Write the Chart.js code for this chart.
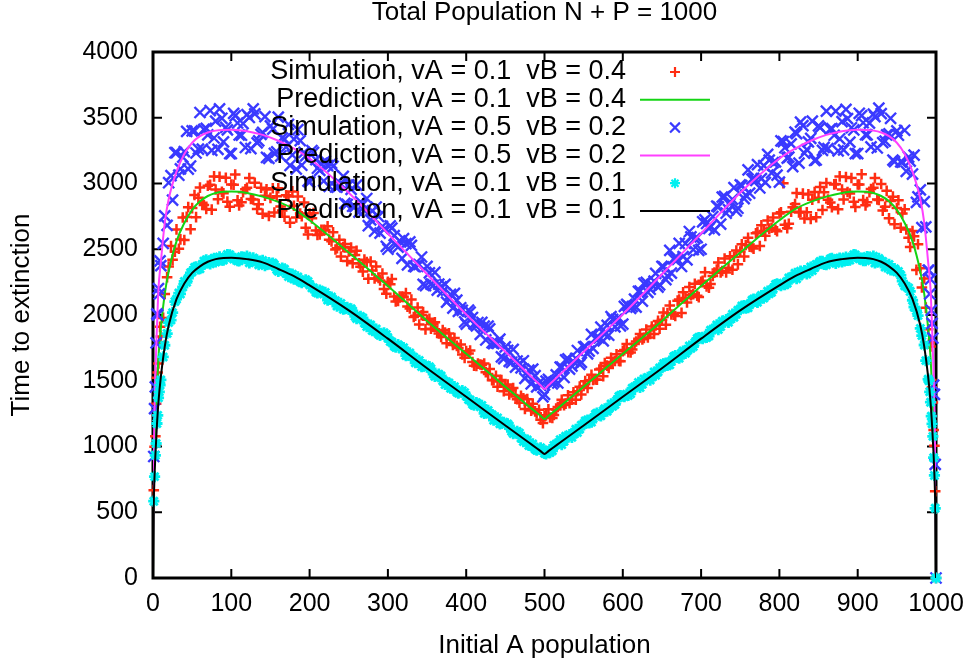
<!DOCTYPE html>
<html>
<head>
<meta charset="utf-8">
<title>Total Population N + P = 1000</title>
<script src="https://cdn.jsdelivr.net/npm/chart.js@4.4.0/dist/chart.umd.min.js"></script>
<style>
  html, body { margin: 0; padding: 0; background: #fff; }
  #chart { display: block; }
</style>
</head>
<body>
<canvas id="chart" width="970" height="667"></canvas>
<script>
// initial A population of each simulated run
const simX = [
    1, 2, 3, 4, 5, 6, 7, 8, 9, 10,
    15, 20, 25, 30, 35, 40, 45, 50, 55, 60, 65, 70, 75, 80, 85, 90, 95, 100, 105, 110,
    115, 120, 125, 130, 135, 140, 145, 150, 155, 160, 165, 170, 175, 180, 185, 190, 195, 200, 205, 210,
    215, 220, 225, 230, 235, 240, 245, 250, 255, 260, 265, 270, 275, 280, 285, 290, 295, 300, 305, 310,
    315, 320, 325, 330, 335, 340, 345, 350, 355, 360, 365, 370, 375, 380, 385, 390, 395, 400, 405, 410,
    415, 420, 425, 430, 435, 440, 445, 450, 455, 460, 465, 470, 475, 480, 485, 490, 495, 500,
    505, 510, 515, 520, 525, 530, 535, 540, 545, 550, 555, 560, 565, 570, 575, 580, 585, 590, 595, 600,
    605, 610, 615, 620, 625, 630, 635, 640, 645, 650, 655, 660, 665, 670, 675, 680, 685, 690, 695, 700,
    705, 710, 715, 720, 725, 730, 735, 740, 745, 750, 755, 760, 765, 770, 775, 780, 785, 790, 795, 800,
    805, 810, 815, 820, 825, 830, 835, 840, 845, 850, 855, 860, 865, 870, 875, 880, 885, 890, 895, 900,
    905, 910, 915, 920, 925, 930, 935, 940, 945, 950, 955, 960, 965, 970, 975, 980, 985,
    990, 991, 992, 993, 994, 995, 996, 997, 998, 999, 1000
];
// runs lying between the ones above
const simMidX = [
    13, 18, 23, 28, 33, 38, 43, 48, 53, 58, 63, 68, 73, 78, 83, 88, 93, 98, 103, 108,
    113, 118, 123, 128, 133, 138, 143, 148, 153, 158, 163, 168, 173, 178, 183, 188, 193, 198, 203, 208,
    213, 218, 223, 228, 233, 238, 243, 248, 253, 258, 263, 268, 273, 278, 283, 288, 293, 298, 303, 308,
    313, 318, 323, 328, 333, 338, 343, 348, 353, 358, 363, 368, 373, 378, 383, 388, 393, 398, 403, 408,
    413, 418, 423, 428, 433, 438, 443, 448, 453, 458, 463, 468, 473, 478, 483, 488, 493, 498,
    502, 507, 512, 517, 522, 527, 532, 537, 542, 547, 552, 557, 562, 567, 572, 577, 582, 587, 592, 597,
    602, 607, 612, 617, 622, 627, 632, 637, 642, 647, 652, 657, 662, 667, 672, 677, 682, 687, 692, 697,
    702, 707, 712, 717, 722, 727, 732, 737, 742, 747, 752, 757, 762, 767, 772, 777, 782, 787, 792, 797,
    802, 807, 812, 817, 822, 827, 832, 837, 842, 847, 852, 857, 862, 867, 872, 877, 882, 887, 892, 897,
    902, 907, 912, 917, 922, 927, 932, 937, 942, 947, 952, 957, 962, 967, 972, 977, 982, 987
];

// simulation, vA = 0.1 vB = 0.4
const simRed = [
    668, 998, 1078, 1326, 1522, 1562, 1632, 1792, 1910, 1836,
    2160, 2369, 2421, 2651, 2575, 2570, 2820, 2813, 2744, 2969,
    2836, 2983, 2801, 2954, 3051, 2925, 2862, 2992, 3069, 2833,
    2933, 2967, 2883, 3006, 2843, 2770, 2955, 2891, 2779, 2964,
    2794, 2910, 2701, 2831, 2902, 2751, 2664, 2772, 2776, 2608,
    2647, 2646, 2573, 2629, 2508, 2444, 2540, 2483, 2394, 2488,
    2367, 2421, 2276, 2338, 2369, 2263, 2198, 2252, 2274, 2103,
    2141, 2138, 2064, 2117, 1995, 1928, 2022, 1963, 1895, 1945,
    1860, 1885, 1785, 1815, 1825, 1750, 1700, 1725, 1730, 1615,
    1630, 1620, 1565, 1590, 1505, 1455, 1505, 1460, 1395, 1445,
    1360, 1385, 1285, 1315, 1326, 1252, 1203, 1229,
    1283, 1217, 1281, 1320, 1315, 1390, 1355, 1355, 1455, 1460,
    1445, 1545, 1510, 1585, 1535, 1615, 1675, 1650, 1650, 1725,
    1780, 1715, 1780, 1820, 1815, 1890, 1855, 1855, 1955, 1963,
    1926, 2072, 2003, 2109, 2016, 2130, 2213, 2159, 2146, 2252,
    2326, 2207, 2297, 2346, 2324, 2429, 2359, 2344, 2490, 2483,
    2444, 2588, 2516, 2621, 2525, 2638, 2719, 2664, 2648, 2772,
    3002, 2660, 2785, 2844, 2779, 2923, 2781, 2730, 2935, 2891,
    2799, 3004, 2856, 2993, 2805, 2954, 3050, 2924, 2861, 2992,
    3070, 2834, 2934, 2967, 2879, 2996, 2823, 2735, 2900, 2813,
    2664, 2804, 2588, 2638, 2343, 2356, 2277,
    1892, 1782, 1792, 1760, 1506, 1450, 1334, 1126, 1006, 660, 0
];
const simMidRed = [
    1978, 2288, 2525, 2481, 2504, 2741, 2746, 2652, 2912, 2892,
    2853, 2807, 2991, 3054, 2880, 2936, 3043, 2823, 2991, 2873,
    2857, 2956, 3041, 2879, 2807, 2968, 2907, 2753, 2964, 2903,
    2826, 2747, 2902, 2940, 2741, 2772, 2855, 2612, 2735, 2643,
    2612, 2647, 2675, 2560, 2498, 2572, 2517, 2410, 2513, 2457,
    2394, 2330, 2403, 2407, 2277, 2281, 2316, 2162, 2234, 2140,
    2106, 2140, 2166, 2049, 1985, 2057, 2000, 1891, 1972, 1929,
    1881, 1833, 1867, 1860, 1772, 1765, 1776, 1674, 1708, 1642,
    1613, 1624, 1631, 1551, 1504, 1538, 1495, 1420, 1472, 1429,
    1381, 1333, 1367, 1360, 1273, 1267, 1279, 1178,
    1237, 1220, 1240, 1300, 1356, 1326, 1329, 1413, 1420, 1395,
    1497, 1504, 1506, 1508, 1592, 1635, 1597, 1640, 1701, 1649,
    1733, 1717, 1738, 1799, 1856, 1826, 1829, 1913, 1920, 1895,
    2019, 2015, 2004, 1992, 2117, 2173, 2095, 2151, 2238, 2136,
    2260, 2218, 2236, 2322, 2400, 2335, 2323, 2447, 2442, 2385,
    2538, 2532, 2519, 2505, 2628, 2682, 2602, 2657, 2741, 2637,
    2781, 2686, 2694, 2819, 2927, 2785, 2734, 2917, 2877, 2743,
    2974, 2933, 2877, 2820, 2996, 3054, 2878, 2935, 3042, 2822,
    2992, 2874, 2858, 2958, 3041, 2874, 2794, 2944, 2866, 2691,
    2873, 2772, 2650, 2517, 2598, 2538, 2210, 2056
];

// simulation, vA = 0.5 vB = 0.2
const simBlue = [
    924, 1288, 1454, 1788, 2008, 2000, 2200, 2160, 2412, 2376,
    2754, 3006, 2874, 3234, 3111, 3243, 3110, 3400, 3232, 3540,
    3412, 3370, 3252, 3474, 3567, 3317, 3408, 3228, 3515, 3369,
    3456, 3524, 3266, 3529, 3324, 3388, 3198, 3438, 3229, 3505,
    3347, 3278, 3137, 3337, 3409, 3139, 3210, 3010, 3237, 3116,
    3150, 3172, 2978, 3131, 2973, 2995, 2849, 2990, 2827, 2988,
    2861, 2794, 2679, 2792, 2821, 2622, 2651, 2500, 2661, 2534,
    2563, 2580, 2381, 2530, 2367, 2384, 2233, 2370, 2235, 2324,
    2234, 2180, 2098, 2157, 2165, 2028, 2036, 1930, 2022, 1933,
    1943, 1944, 1810, 1894, 1783, 1785, 1681, 1758, 1647, 1738,
    1650, 1598, 1518, 1580, 1589, 1454, 1465, 1397,
    1510, 1477, 1544, 1603, 1525, 1666, 1612, 1671, 1624, 1758,
    1704, 1852, 1821, 1826, 1803, 1921, 1988, 1910, 1977, 1930,
    2081, 2051, 2120, 2180, 2105, 2248, 2196, 2257, 2212, 2370,
    2269, 2492, 2427, 2422, 2369, 2544, 2635, 2498, 2589, 2500,
    2723, 2658, 2749, 2828, 2691, 2902, 2801, 2880, 2791, 2990,
    2885, 3103, 3033, 3023, 2966, 3136, 3222, 3080, 3165, 3010,
    3318, 3193, 3301, 3391, 3155, 3440, 3257, 3343, 3175, 3438,
    3252, 3550, 3414, 3367, 3248, 3470, 3564, 3315, 3407, 3228,
    3516, 3371, 3459, 3528, 3270, 3532, 3322, 3378, 3178, 3400,
    3164, 3405, 3201, 3072, 2856, 2952, 2862,
    2340, 2340, 2160, 2272, 2036, 1936, 1824, 1466, 1396, 864, 0
];
const simMidBlue = [
    2544, 2682, 3060, 3234, 3063, 3201, 3397, 3133, 3400, 3262,
    3262, 3419, 3555, 3346, 3260, 3496, 3426, 3228, 3533, 3460,
    3367, 3274, 3502, 3568, 3309, 3373, 3508, 3191, 3413, 3240,
    3209, 3338, 3449, 3217, 3110, 3326, 3236, 3018, 3251, 3181,
    3100, 3019, 3136, 3154, 2974, 2992, 3054, 2841, 2955, 2825,
    2783, 2840, 2886, 2723, 2637, 2749, 2674, 2522, 2678, 2603,
    2517, 2431, 2543, 2556, 2371, 2384, 2441, 2223, 2320, 2226,
    2189, 2214, 2233, 2118, 2053, 2113, 2055, 1947, 2037, 1981,
    1917, 1853, 1916, 1915, 1789, 1788, 1816, 1668, 1731, 1639,
    1604, 1631, 1652, 1540, 1476, 1539, 1483, 1378,
    1497, 1497, 1490, 1483, 1603, 1659, 1589, 1646, 1730, 1640,
    1759, 1725, 1746, 1831, 1908, 1853, 1846, 1966, 1967, 1918,
    2066, 2069, 2064, 2060, 2181, 2240, 2172, 2231, 2317, 2229,
    2366, 2298, 2318, 2437, 2545, 2444, 2420, 2594, 2581, 2491,
    2709, 2696, 2672, 2648, 2822, 2897, 2774, 2849, 2968, 2812,
    2984, 2911, 2926, 3040, 3143, 3037, 3008, 3177, 3159, 3064,
    3324, 3272, 3200, 3128, 3379, 3467, 3230, 3317, 3474, 3179,
    3425, 3274, 3265, 3417, 3550, 3340, 3256, 3493, 3424, 3227,
    3534, 3462, 3370, 3278, 3508, 3573, 3311, 3370, 3496, 3166,
    3367, 3163, 3093, 3171, 3216, 2898, 2664, 2670
];

// simulation, vA = 0.1 vB = 0.1
const simCyan = [
    584, 771, 933, 1023, 1175, 1237, 1370, 1416, 1467, 1506,
    1770, 1942, 2018, 2120, 2160, 2255, 2280, 2328, 2366, 2352,
    2410, 2397, 2419, 2403, 2442, 2418, 2460, 2440, 2431, 2412,
    2439, 2447, 2408, 2414, 2382, 2415, 2385, 2386, 2383, 2332,
    2357, 2315, 2312, 2273, 2290, 2246, 2268, 2230, 2205, 2168,
    2179, 2172, 2119, 2112, 2068, 2088, 2049, 2043, 2031, 1973,
    1989, 1939, 1928, 1881, 1893, 1845, 1865, 1825, 1795, 1755,
    1762, 1752, 1695, 1685, 1637, 1655, 1612, 1603, 1591, 1533,
    1550, 1500, 1489, 1443, 1455, 1406, 1425, 1383, 1354, 1314,
    1322, 1312, 1257, 1247, 1200, 1218, 1177, 1168, 1156, 1098,
    1115, 1065, 1055, 1008, 1020, 972, 990, 948,
    963, 967, 1018, 1052, 1040, 1073, 1070, 1131, 1133, 1168,
    1200, 1185, 1245, 1239, 1272, 1268, 1324, 1319, 1381, 1383,
    1398, 1401, 1453, 1487, 1474, 1508, 1505, 1566, 1568, 1603,
    1635, 1622, 1682, 1677, 1710, 1708, 1764, 1760, 1822, 1825,
    1838, 1840, 1891, 1925, 1913, 1947, 1944, 2006, 2008, 2043,
    2072, 2055, 2113, 2104, 2134, 2128, 2181, 2173, 2232, 2230,
    2241, 2241, 2288, 2317, 2297, 2323, 2312, 2365, 2360, 2386,
    2408, 2382, 2427, 2406, 2423, 2403, 2441, 2417, 2459, 2440,
    2433, 2413, 2440, 2447, 2404, 2405, 2365, 2385, 2343, 2328,
    2303, 2222, 2205, 2112, 2033, 1898, 1772,
    1512, 1500, 1416, 1337, 1231, 1172, 1077, 915, 780, 530, 0
];
const simMidCyan = [
    1681, 1859, 1961, 2102, 2167, 2213, 2249, 2321, 2362, 2351,
    2382, 2419, 2389, 2431, 2415, 2417, 2439, 2458, 2426, 2413,
    2443, 2430, 2397, 2434, 2418, 2398, 2376, 2398, 2395, 2346,
    2342, 2349, 2292, 2311, 2272, 2253, 2255, 2255, 2206, 2175,
    2189, 2160, 2113, 2137, 2108, 2076, 2044, 2058, 2047, 1990,
    1979, 1977, 1912, 1924, 1879, 1856, 1854, 1851, 1798, 1764,
    1774, 1742, 1691, 1712, 1679, 1644, 1608, 1619, 1607, 1550,
    1539, 1537, 1472, 1484, 1439, 1415, 1413, 1410, 1357, 1323,
    1334, 1302, 1252, 1274, 1242, 1207, 1172, 1184, 1172, 1115,
    1103, 1102, 1037, 1049, 1004, 980, 979, 975,
    944, 954, 1008, 1020, 1014, 1078, 1090, 1098, 1107, 1162,
    1194, 1180, 1212, 1254, 1233, 1287, 1286, 1306, 1348, 1388,
    1379, 1388, 1443, 1455, 1449, 1513, 1525, 1534, 1542, 1597,
    1629, 1616, 1649, 1691, 1671, 1726, 1726, 1746, 1789, 1829,
    1820, 1829, 1884, 1895, 1889, 1953, 1965, 1974, 1982, 2037,
    2068, 2052, 2081, 2120, 2096, 2148, 2144, 2161, 2200, 2237,
    2224, 2230, 2281, 2288, 2276, 2333, 2337, 2337, 2338, 2385,
    2408, 2384, 2403, 2430, 2393, 2432, 2414, 2415, 2438, 2457,
    2427, 2414, 2445, 2431, 2396, 2430, 2407, 2377, 2343, 2352,
    2331, 2257, 2218, 2179, 2061, 1996, 1843, 1653
];

// predicted curves
const predX = [
    0, 1, 2, 3, 5, 7, 10, 15, 20, 30, 40, 50, 60, 70, 80, 90, 100, 110, 120, 140, 160, 180,
    200, 250, 300, 350, 400, 450, 480, 490, 495, 500, 505, 510, 520, 550, 600, 650, 700, 750,
    800, 820, 840, 860, 880, 890, 900, 910, 920, 930, 940, 950, 960, 970, 980, 985, 990, 993,
    995, 997, 998, 999, 1000
];
const predGreen = [
    0, 700, 950, 1150, 1450, 1680, 1900, 2160, 2330, 2560, 2700, 2800, 2865, 2905, 2928, 2938, 2940, 2937, 2928, 2900, 2860, 2805,
    2720, 2475, 2220, 1955, 1705, 1455, 1305, 1257, 1233, 1209, 1233, 1257, 1305, 1455, 1705, 1955, 2220, 2475,
    2720, 2805, 2860, 2900, 2928, 2937, 2940, 2938, 2928, 2905, 2865, 2800, 2700, 2560, 2330, 2160, 1900, 1680,
    1450, 1150, 950, 700, 0
];
const predMagenta = [
    0, 900, 1300, 1550, 1900, 2200, 2400, 2700, 2880, 3090, 3225, 3310, 3360, 3388, 3402, 3407, 3408, 3405, 3398, 3370, 3325, 3265,
    3190, 2930, 2620, 2310, 2005, 1720, 1550, 1492, 1465, 1437, 1465, 1492, 1550, 1720, 2005, 2310, 2620, 2930,
    3190, 3265, 3325, 3370, 3398, 3405, 3408, 3407, 3402, 3388, 3360, 3310, 3225, 3090, 2880, 2700, 2400, 2200,
    1900, 1550, 1300, 900, 0
];
const predBlack = [
    0, 560, 780, 930, 1160, 1340, 1530, 1760, 1920, 2120, 2240, 2320, 2370, 2405, 2425, 2433, 2435, 2432, 2425, 2400, 2350, 2295,
    2225, 2035, 1820, 1595, 1378, 1160, 1030, 987, 965, 943, 965, 987, 1030, 1160, 1378, 1595, 1820, 2035,
    2225, 2295, 2350, 2400, 2425, 2432, 2435, 2433, 2425, 2405, 2370, 2320, 2240, 2120, 1920, 1760, 1530, 1340,
    1160, 930, 780, 560, 0
];

const seriesNames = [
    'Simulation, vA = 0.1  vB = 0.4',
    'Prediction, vA = 0.1  vB = 0.4',
    'Simulation, vA = 0.5  vB = 0.2',
    'Prediction, vA = 0.5  vB = 0.2',
    'Simulation, vA = 0.1  vB = 0.1',
    'Prediction, vA = 0.1  vB = 0.1'
];
const xTickValues = [0, 100, 200, 300, 400, 500, 600, 700, 800, 900, 1000];
const yTickValues = [0, 500, 1000, 1500, 2000, 2500, 3000, 3500, 4000];

const FONT = '"Liberation Sans", Arial, Helvetica, sans-serif';
const RED = '#ff2d12';
const GREEN = '#14d414';
const BLUE = '#3a3aff';
const MAGENTA = '#ff40ff';
const CYAN = '#00f0f0';

function pts(xs, ys) {
    return xs.map((x, i) => ({ x: x, y: ys[i] }));
}

// draws a gnuplot style marker for the key
function drawMark(ctx, style, x, y, r) {
    ctx.beginPath();
    if (style === 'cross' || style === 'star') {
        ctx.moveTo(x - r, y); ctx.lineTo(x + r, y);
        ctx.moveTo(x, y - r); ctx.lineTo(x, y + r);
    }
    if (style === 'crossRot' || style === 'star') {
        const d = r * 0.7071;
        ctx.moveTo(x - d, y - d); ctx.lineTo(x + d, y + d);
        ctx.moveTo(x - d, y + d); ctx.lineTo(x + d, y - d);
    }
    ctx.stroke();
}

// border with inward ticks on all four sides
const frameTicks = {
    id: 'frameTicks',
    beforeDatasetsDraw(chart) {
        const { ctx, chartArea: a, scales: { x, y } } = chart;
        ctx.save();
        ctx.strokeStyle = '#000';
        ctx.lineWidth = 2;
        ctx.beginPath();
        xTickValues.forEach(v => {
            const px = x.getPixelForValue(v);
            ctx.moveTo(px, a.bottom); ctx.lineTo(px, a.bottom - 9);
            ctx.moveTo(px, a.top); ctx.lineTo(px, a.top + 9);
        });
        yTickValues.forEach(v => {
            const py = y.getPixelForValue(v);
            ctx.moveTo(a.left, py); ctx.lineTo(a.left + 9, py);
            ctx.moveTo(a.right, py); ctx.lineTo(a.right - 9, py);
        });
        ctx.stroke();
        ctx.lineWidth = 3;
        ctx.strokeRect(a.left, a.top, a.right - a.left, a.bottom - a.top);
        ctx.restore();
    }
};

// key inside the plot, text right aligned with the sample after it
const keyBox = {
    id: 'keyBox',
    afterDatasetsDraw(chart) {
        const ctx = chart.ctx;
        const a = chart.chartArea;
        const textRight = a.left + 473;
        const sampleX = a.left + 522;
        ctx.save();
        ctx.font = '27px ' + FONT;
        ctx.textAlign = 'right';
        ctx.textBaseline = 'middle';
        chart.data.datasets.forEach((ds, i) => {
            const yy = a.top + 20 + i * 27.8;
            ctx.fillStyle = '#000';
            ctx.fillText(ds.label, textRight, yy);
            ctx.strokeStyle = ds.borderColor;
            if (ds.showLine) {
                ctx.lineWidth = 2;
                ctx.beginPath();
                ctx.moveTo(sampleX - 35, yy);
                ctx.lineTo(sampleX + 35, yy);
                ctx.stroke();
            } else {
                ctx.lineWidth = 2.2;
                drawMark(ctx, ds.pointStyle, sampleX, yy, ds.pointStyle === 'crossRot' ? 7 : 5);
            }
        });
        ctx.restore();
    }
};

const plain = v => String(v);

const ctx = document.getElementById('chart').getContext('2d');
new Chart(ctx, {
    type: 'scatter',
    data: {
        datasets: [{
            label: seriesNames[0],
            data: pts(simX, simRed).concat(pts(simMidX, simMidRed)),
            pointStyle: 'cross',
            pointRadius: 5.3,
            borderWidth: 2.5,
            borderColor: RED,
            backgroundColor: RED,
            clip: 10,
            order: 6
        }, {
            label: seriesNames[1],
            data: pts(predX, predGreen),
            showLine: true,
            pointRadius: 0,
            borderWidth: 2,
            borderColor: GREEN,
            cubicInterpolationMode: 'monotone',
            order: 5
        }, {
            label: seriesNames[2],
            data: pts(simX, simBlue).concat(pts(simMidX, simMidBlue)),
            pointStyle: 'crossRot',
            pointRadius: 7.8,
            borderWidth: 2.4,
            borderColor: BLUE,
            backgroundColor: BLUE,
            clip: 10,
            order: 4
        }, {
            label: seriesNames[3],
            data: pts(predX, predMagenta),
            showLine: true,
            pointRadius: 0,
            borderWidth: 2,
            borderColor: MAGENTA,
            cubicInterpolationMode: 'monotone',
            order: 3
        }, {
            label: seriesNames[4],
            data: pts(simX, simCyan).concat(pts(simMidX, simMidCyan)),
            pointStyle: 'star',
            pointRadius: 5.6,
            borderWidth: 2.8,
            borderColor: CYAN,
            backgroundColor: CYAN,
            clip: 10,
            order: 2
        }, {
            label: seriesNames[5],
            data: pts(predX, predBlack),
            showLine: true,
            pointRadius: 0,
            borderWidth: 2,
            borderColor: '#000',
            cubicInterpolationMode: 'monotone',
            order: 1
        }]
    },
    options: {
        responsive: false,
        animation: false,
        devicePixelRatio: 1,
        layout: { padding: { left: 0, right: 34, top: 0, bottom: 0 } },
        plugins: {
            legend: { display: false },
            tooltip: { enabled: false },
            title: {
                display: true,
                fullSize: false,
                text: 'Total Population N + P = 1000',
                color: '#000',
                font: { family: FONT, size: 26, weight: 'normal', lineHeight: 1 },
                padding: { top: 0, bottom: 26 }
            }
        },
        scales: {
            x: {
                type: 'linear',
                min: 0,
                max: 1000,
                afterBuildTicks: scale => { scale.ticks = xTickValues.map(v => ({ value: v })); },
                afterFit: scale => {
                    scale.height = 89;
                    scale.paddingLeft = 0;
                    scale.paddingRight = 0;
                },
                grid: { display: false, drawTicks: false },
                border: { display: false },
                ticks: { color: '#000', padding: 11, maxRotation: 0, callback: plain, font: { family: FONT, size: 25 } },
                title: {
                    display: true,
                    text: 'Initial A population',
                    color: '#000',
                    font: { family: FONT, size: 26 },
                    padding: { top: 7, bottom: 6 }
                }
            },
            y: {
                type: 'linear',
                min: 0,
                max: 4000,
                afterBuildTicks: scale => { scale.ticks = yTickValues.map(v => ({ value: v })); },
                afterFit: scale => { scale.width = 153; },
                grid: { display: false, drawTicks: false },
                border: { display: false },
                ticks: { color: '#000', padding: 15, callback: plain, font: { family: FONT, size: 25 } },
                title: {
                    display: true,
                    text: 'Time to extinction',
                    color: '#000',
                    font: { family: FONT, size: 26 },
                    padding: { top: 6, bottom: 7 }
                }
            }
        }
    },
    plugins: [frameTicks, keyBox]
});
</script>
</body>
</html>
